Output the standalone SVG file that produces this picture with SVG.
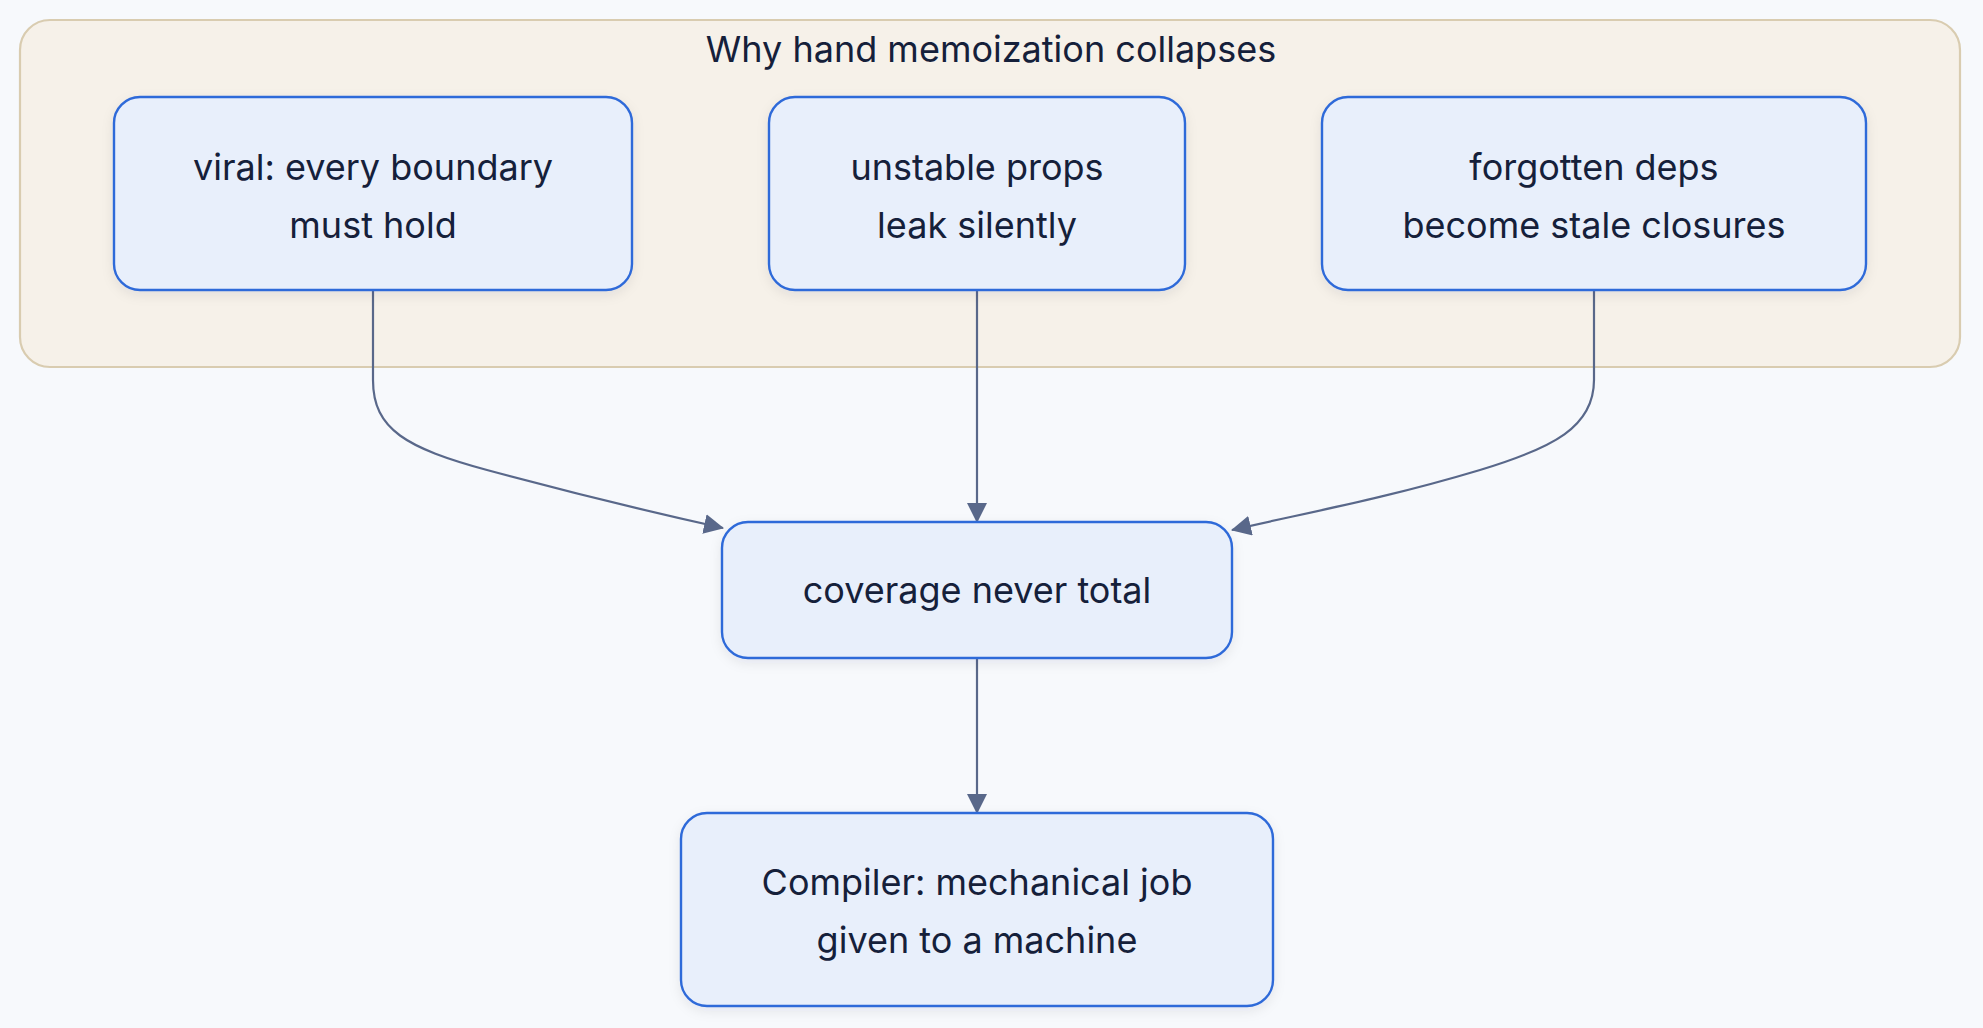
<svg xmlns="http://www.w3.org/2000/svg" width="1983" height="1028" viewBox="0 0 1983 1028">
<defs>
<style>
.node rect{fill:#e8effb;stroke:#2f6ad9;stroke-width:2.4;filter:url(#sh)}
.lbl{font-family:Inter,"Liberation Sans",sans-serif;font-size:36px;fill:#15203a;text-anchor:middle}
.edge{fill:none;stroke:#59688a;stroke-width:2.2;marker-end:url(#ah)}
</style>
<filter id="sh" x="-10%" y="-10%" width="120%" height="130%">
<feDropShadow dx="0" dy="4" stdDeviation="6" flood-color="#1a2a4a" flood-opacity="0.08"/>
</filter>
<marker id="ah" viewBox="0 0 20 20" refX="19" refY="10" markerWidth="20" markerHeight="20" markerUnits="userSpaceOnUse" orient="auto">
<path d="M0,0 L20,10 L0,20 Z" fill="#59688a"/>
</marker>
</defs>
<rect width="1983" height="1028" fill="#f7f9fc"/>
<g id="cluster">
<rect x="20" y="20" width="1940" height="347" rx="30" fill="#f6f1e9" stroke="#d9ccb0" stroke-width="2.2"/>
<text class="lbl" x="991" y="62">Why hand memoization collapses</text>
</g>
<g id="edges">
<path class="edge" d="M373,290 L373,380 C373,430 407,448 487,470 C587,497 655,513 723,528"/>
<path class="edge" d="M977,290 L977,522"/>
<path class="edge" d="M1594,290 L1594,380 C1594,427 1553,448 1480,470 C1380,500 1300,514 1232,530"/>
<path class="edge" d="M977,658 L977,813"/>
</g>
<g id="n1" class="node">
<rect x="114" y="97" width="518" height="193" rx="26"/>
<text class="lbl" x="373" y="180">viral: every boundary</text>
<text class="lbl" x="373" y="238">must hold</text>
</g>
<g id="n2" class="node">
<rect x="769" y="97" width="416" height="193" rx="26"/>
<text class="lbl" x="977" y="180">unstable props</text>
<text class="lbl" x="977" y="238">leak silently</text>
</g>
<g id="n3" class="node">
<rect x="1322" y="97" width="544" height="193" rx="26"/>
<text class="lbl" x="1594" y="180">forgotten deps</text>
<text class="lbl" x="1594" y="238">become stale closures</text>
</g>
<g id="n4" class="node">
<rect x="722" y="522" width="510" height="136" rx="26"/>
<text class="lbl" x="977" y="603">coverage never total</text>
</g>
<g id="n5" class="node">
<rect x="681" y="813" width="592" height="193" rx="26"/>
<text class="lbl" x="977" y="895">Compiler: mechanical job</text>
<text class="lbl" x="977" y="953">given to a machine</text>
</g>
</svg>
